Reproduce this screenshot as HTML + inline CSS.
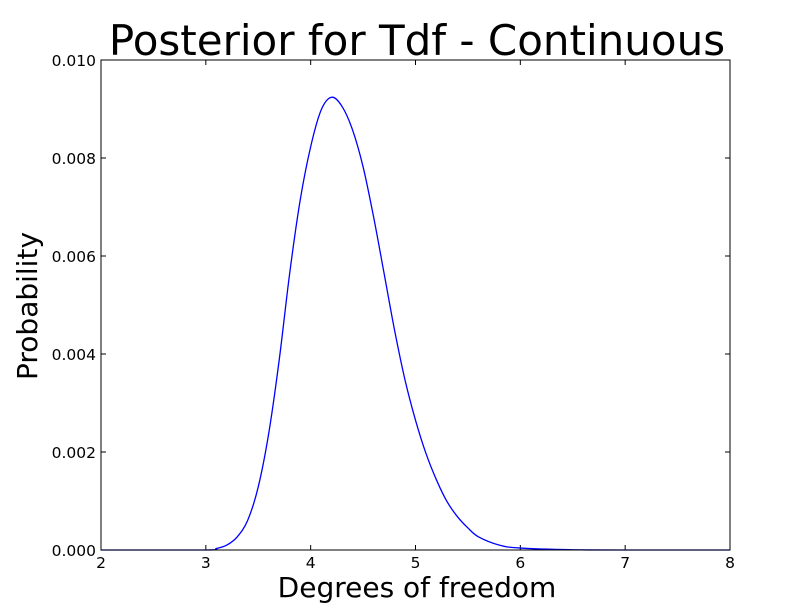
<!DOCTYPE html>
<html><head><meta charset="utf-8"><style>
body{margin:0;background:#fff;}
svg{display:block;font-family:"DejaVu Sans","Liberation Sans",sans-serif;}
</style></head><body>
<svg id="chart" width="812" height="612" viewBox="0 0 812 612">
<rect width="812" height="612" fill="#fff"/>
<text x="417" y="55" font-size="42" text-anchor="middle">Posterior for Tdf - Continuous</text>
<g id="ticks"></g>
<path id="curve" fill="none" stroke="#0000ff" stroke-width="1.3"/>
<rect x="101" y="60" width="629" height="490" fill="none" stroke="#000" stroke-width="1"/>
<text x="417" y="597" font-size="28" text-anchor="middle">Degrees of freedom</text>
<text transform="translate(37,306) rotate(-90)" font-size="28" text-anchor="middle">Probability</text>
</svg>
<script>
const xs = [2,3.0,3.1,3.2,3.3,3.4,3.5,3.6,3.7,3.8,3.9,4.0,4.1,4.2,4.3,4.4,4.5,4.6,4.7,4.8,4.9,5.0,5.1,5.2,5.3,5.4,5.5,5.6,5.8,6.0,6.5,7.0,8.0];
const ys = [0,0,0.00003,0.0001,0.00027,0.00061,0.00129,0.00238,0.00388,0.00565,0.00714,0.00823,0.00898,0.00924,0.00905,0.00857,0.00782,0.0068,0.00565,0.00449,0.00347,0.00265,0.00197,0.00143,0.00099,0.00068,0.00045,0.00027,0.0001,0.00004,0.000005,0,0];
const xTicks = [2,3,4,5,6,7,8];
const yTicks = [0,0.002,0.004,0.006,0.008,0.010];
const yTickLabels = ["0.000","0.002","0.004","0.006","0.008","0.010"];
const L=101,R=730,T=60,B=550;
function sx(v){return L+(v-2)/6*(R-L);}
function sy(v){return B-v/0.01*(B-T);}
const NS="http://www.w3.org/2000/svg";
const g=document.getElementById('ticks');
function mk(tag,attrs){const e=document.createElementNS(NS,tag);for(const k in attrs)e.setAttribute(k,attrs[k]);g.appendChild(e);return e;}
xTicks.forEach(v=>{
  const x=sx(v);
  const a=mk('line',{x1:x,x2:x,y1:B,y2:B-5,stroke:'#000'});
  
  
  const b=mk('line',{x1:x,x2:x,y1:T,y2:T+5,stroke:'#000'});
  
  
  const t=mk('text',{x:x,y:568,'font-size':15.5,'text-anchor':'middle'});
  t.textContent=String(v);
  
  
});
yTicks.forEach((v,i)=>{
  const y=sy(v);
  const a=mk('line',{x1:L,x2:L+5,y1:y,y2:y,stroke:'#000'});
  
  
  const b=mk('line',{x1:R,x2:R-5,y1:y,y2:y,stroke:'#000'});
  
  
  const t=mk('text',{x:96,y:y+6,'font-size':15.5,'text-anchor':'end'});
  t.textContent=yTickLabels[i];
  
  
});
const pts=xs.map((x,i)=>[sx(x),sy(ys[i])]);
let d='M'+pts[0][0]+','+pts[0][1];
for(let i=0;i<pts.length-1;i++){
  const p0=pts[Math.max(0,i-1)],p1=pts[i],p2=pts[i+1],p3=pts[Math.min(pts.length-1,i+2)];
  const c1=[p1[0]+(p2[0]-p0[0])/6,p1[1]+(p2[1]-p0[1])/6];
  const c2=[p2[0]-(p3[0]-p1[0])/6,p2[1]-(p3[1]-p1[1])/6];
  c1[1]=Math.min(c1[1],B);c2[1]=Math.min(c2[1],B);
  d+=' C'+c1[0]+','+c1[1]+' '+c2[0]+','+c2[1]+' '+p2[0]+','+p2[1];
}
document.getElementById('curve').setAttribute('d',d);
</script>
</body></html>
